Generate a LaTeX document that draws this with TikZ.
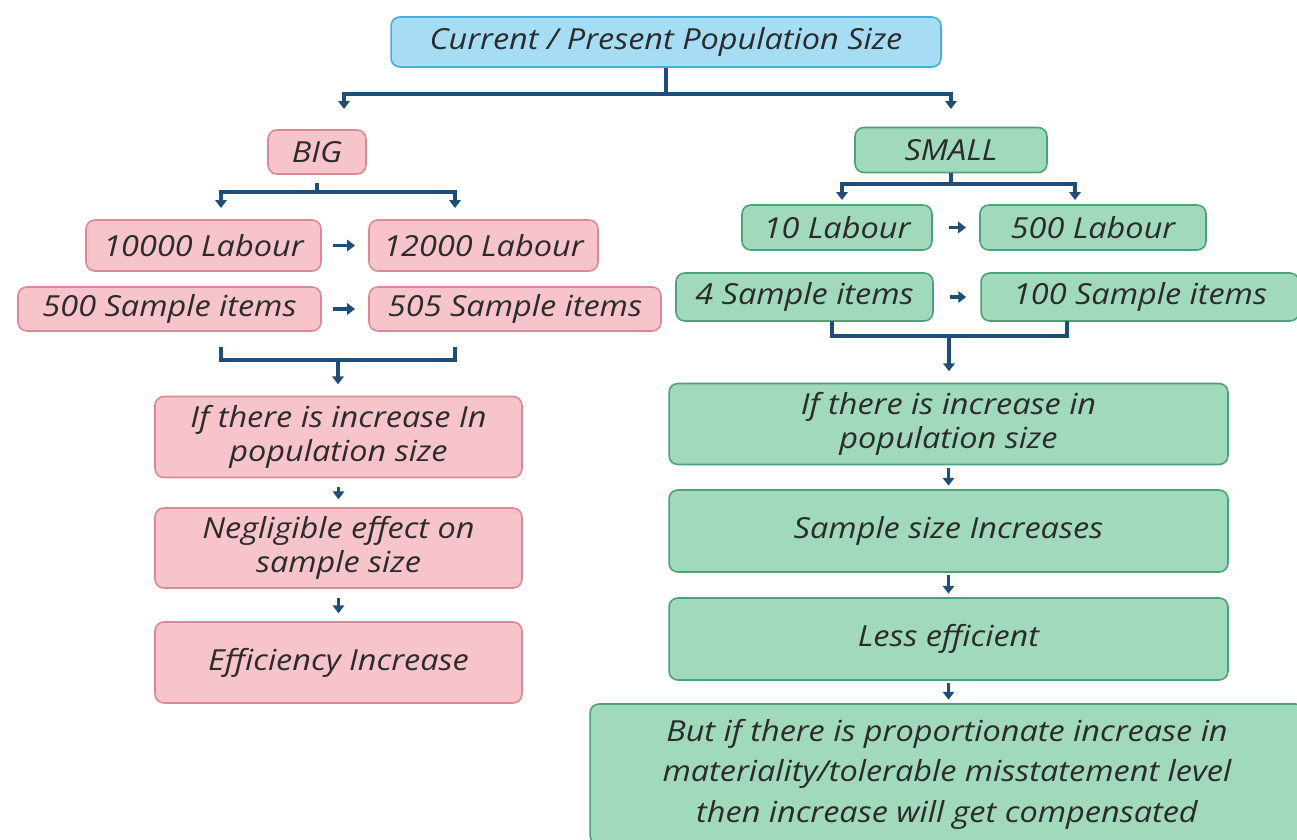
\documentclass[tikz,border=0pt]{standalone}
\usepackage{fontspec}
\setmainfont{Open Sans}[FakeStretch=1.12]
\usetikzlibrary{positioning,arrows.meta}

\definecolor{pinkfill}{HTML}{F7C4CB}
\definecolor{pinkline}{HTML}{D98A96}
\definecolor{greenfill}{HTML}{A1D9BC}
\definecolor{greenline}{HTML}{4AA276}
\definecolor{bluefill}{HTML}{A6DDF5}
\definecolor{blueline}{HTML}{45AEDC}
\definecolor{linkblue}{HTML}{1F4E79}
\definecolor{inkgray}{HTML}{2B2B2B}

\tikzset{
  box/.style={draw, rounded corners=5pt, line width=0.9pt, text=inkgray,
    font=\itshape\fontsize{16.5}{19}\selectfont, align=center, inner sep=2pt},
  bigbox/.style={box, fill=pinkfill, draw=pinkline},
  smallbox/.style={box, fill=greenfill, draw=greenline},
  topbox/.style={box, fill=bluefill, draw=blueline},
  link/.style={draw=linkblue, line width=2.1pt},
  flow/.style={link, -{Triangle[length=4.5pt,width=6.5pt]}},
}

\begin{document}
\begin{tikzpicture}[x=0.02cm, y=-0.02cm]
\useasboundingbox (0,0) rectangle (1297,839);

% root
\node[topbox, minimum width=11cm, minimum height=1cm] (top) at (666,42) {Current / Present Population Size};

% big population branch
\node[bigbox, minimum width=1.96cm, minimum height=0.88cm] (big) at (317,152) {BIG};
\node[bigbox, minimum width=4.7cm, minimum height=1.02cm] (labB1) at (203.5,245.5) {10000 Labour};
\node[bigbox, minimum width=4.58cm, minimum height=1.02cm] (labB2) at (483.5,245.5) {12000 Labour};
\node[bigbox, minimum width=6.06cm, minimum height=0.88cm] (smpB1) at (169.5,309) {500 Sample items};
\node[bigbox, minimum width=5.84cm, minimum height=0.88cm] (smpB2) at (515,309) {505 Sample items};
\node[bigbox, minimum width=7.34cm, minimum height=1.62cm] (effB1) at (338.5,437) {If there is increase In\\population size};
\node[bigbox, minimum width=7.34cm, minimum height=1.6cm] (effB2) at (338.5,548) {Negligible effect on\\sample size};
\node[bigbox, minimum width=7.34cm, minimum height=1.62cm] (effB3) at (338.5,662.5) {Efficiency Increase};

% small population branch
\node[smallbox, minimum width=3.84cm, minimum height=0.9cm] (small) at (951,150) {SMALL};
\node[smallbox, minimum width=3.8cm, minimum height=0.9cm] (labS1) at (837,227.5) {10 Labour};
\node[smallbox, minimum width=4.52cm, minimum height=0.9cm] (labS2) at (1093,227.5) {500 Labour};
\node[smallbox, minimum width=5.14cm, minimum height=0.96cm] (smpS1) at (804.5,297) {4 Sample items};
\node[smallbox, minimum width=6.36cm, minimum height=0.96cm] (smpS2) at (1140,297) {100 Sample items};
\node[smallbox, minimum width=11.18cm, minimum height=1.62cm] (effS1) at (948.5,424) {If there is increase in\\population size};
\node[smallbox, minimum width=11.18cm, minimum height=1.64cm] (effS2) at (948.5,531) {Sample size Increases};
\node[smallbox, minimum width=11.18cm, minimum height=1.64cm] (effS3) at (948.5,639) {Less efficient};
\node[smallbox, minimum width=14.28cm, minimum height=2.8cm, font=\itshape\fontsize{16.5}{23}\selectfont] (effS4) at (947,774)
  {But if there is proportionate increase in\\materiality/tolerable misstatement level\\then increase will get compensated};

% split below the root
\coordinate (topJ) at (666,94);
\coordinate (bigIn) at (344,109);
\coordinate (smallIn) at (951,109);
\draw[link] (top) -- (topJ);
\draw[flow] (topJ) -| (bigIn);
\draw[flow] (topJ) -| (smallIn);

% BIG fork
\coordinate (bigJ) at (318,192);
\coordinate (bigL) at (221,208);
\coordinate (bigR) at (455,208);
\draw[link, shorten <=4.5pt] (big.south) -- (big.south |- bigJ);
\draw[flow] (bigJ) -| (bigL);
\draw[flow] (bigJ) -| (bigR);

% SMALL fork
\coordinate (smallJ) at (951,184);
\coordinate (smallL) at (842,200);
\coordinate (smallR) at (1075,200);
\draw[link] (small) -- (smallJ);
\draw[flow] (smallJ) -| (smallL);
\draw[flow] (smallJ) -| (smallR);

% before -> after
\draw[flow, shorten <=6.5pt, shorten >=7.5pt] (labB1) -- (labB2);
\draw[flow, shorten <=6.5pt, shorten >=7.5pt] (smpB1) -- (smpB2);
\draw[flow, shorten <=9pt, shorten >=7.5pt] (labS1) -- (labS2);
\draw[flow, shorten <=9.5pt, shorten >=8pt] (smpS1) -- (smpS2);

% BIG bracket and chain
\coordinate (bigBL) at (221,347);
\coordinate (bigBR) at (455,347);
\coordinate (bigBM) at (338,360);
\draw[link] (bigBL) |- (bigBM) -| (bigBR);
\draw[flow, shorten >=6.5pt] (bigBM) -- (bigBM |- effB1.north);
\draw[flow, shorten <=5pt, shorten >=4.5pt] (effB1) -- (effB2);
\draw[flow, shorten <=5pt, shorten >=4.5pt] (effB2) -- (effB3);

% SMALL bracket and chain
\coordinate (smlBL) at (832,321);
\coordinate (smlBR) at (1067,321);
\coordinate (smlBM) at (949,336);
\draw[link] (smlBL) |- (smlBM) -| (smlBR);
\draw[flow, shorten >=6.5pt] (smlBM) -- (smlBM |- effS1.north);
\draw[flow, shorten <=1.5pt, shorten >=2pt] (effS1) -- (effS2);
\draw[flow, shorten <=1.5pt, shorten >=2pt] (effS2) -- (effS3);
\draw[flow, shorten <=1.5pt, shorten >=2pt] (effS3.south) -- (effS3.south |- effS4.north);
\end{tikzpicture}
\end{document}
